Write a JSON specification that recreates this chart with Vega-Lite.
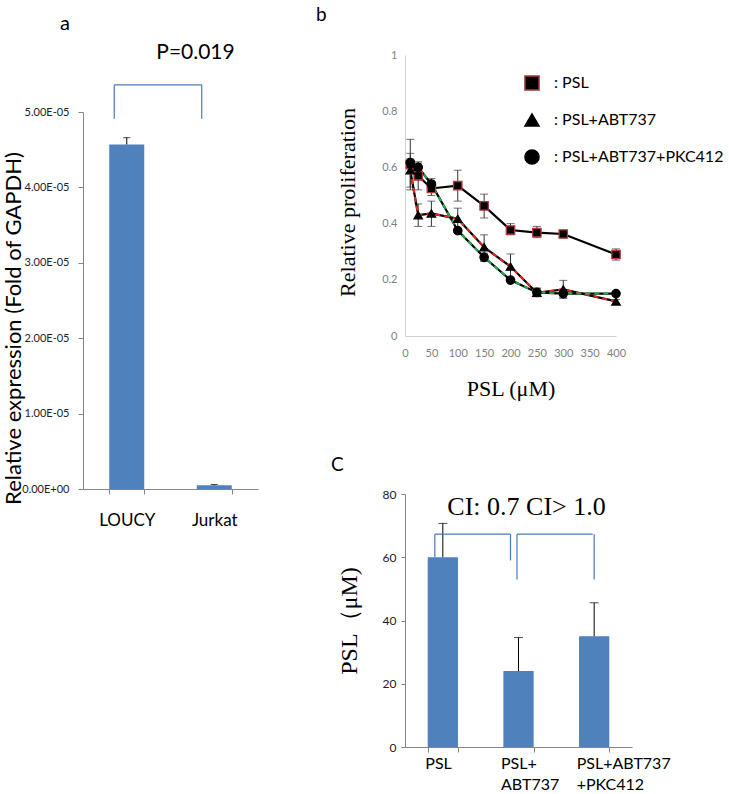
{
  "$schema": "https://vega.github.io/schema/vega-lite/v6.json",
  "background": "white",
  "padding": {"left": 2, "top": 6, "right": 0, "bottom": 0},
  "config": {
    "view": {"stroke": null},
    "font": "Lato",
    "axis": {"grid": false, "labelFont": "Lato", "titleFont": "Lato", "titleFontWeight": "normal", "labelFlush": false},
    "title": {"font": "Lato", "fontWeight": "normal", "color": "black"}
  },
  "spacing": 58,
  "hconcat": [
    {
      "spacing": 6,
      "vconcat": [
        {
          "width": 175,
          "height": 23,
          "title": {"text": "a", "anchor": "start", "frame": "group", "dx": -23, "fontSize": 20, "offset": 8},
          "data": {"values": [{"label": "P=0.019"}]},
          "mark": {"type": "text", "fontSize": 21, "font": "Lato", "color": "black", "dy": -13.5, "dx": 25},
          "encoding": {"text": {"field": "label", "type": "nominal"}}
        },
        {
          "width": 175,
          "height": 377,
          "data": {"values": [
            {"cell": "LOUCY", "expr": 4.57e-5, "upper": 4.66e-5},
            {"cell": "Jurkat", "expr": 5e-7, "upper": 6e-7}
          ]},
          "encoding": {
            "x": {
              "field": "cell", "type": "nominal", "sort": null,
              "scale": {"paddingInner": 0.6, "paddingOuter": 0.3},
              "axis": {"title": null, "labelAngle": 0, "tickBand": "extent", "tickSize": 5, "tickColor": "#868686", "domainColor": "#868686", "labelFontSize": 17, "labelPadding": 18, "labelColor": "black"}
            }
          },
          "layer": [
            {
              "mark": {"type": "bar", "color": "#4F81BD"},
              "encoding": {
                "y": {
                  "field": "expr", "type": "quantitative",
                  "scale": {"domain": [0, 5e-5]},
                  "axis": {
                    "values": [0, 1e-5, 2e-5, 3e-5, 4e-5, 5e-5],
                    "labelExpr": "datum.value == 0 ? '0.00E+00' : format(datum.value * 100000, '.2f') + 'E-05'",
                    "title": "Relative expression (Fold of GAPDH)",
                    "titleFontSize": 22, "titleY": 216, "titlePadding": -4, "titleColor": "black",
                    "labelFontSize": 11, "labelPadding": 9, "labelColor": "#222",
                    "tickSize": 5, "tickColor": "#868686", "domainColor": "#868686"
                  }
                }
              }
            },
            {
              "mark": {"type": "rule", "color": "black", "strokeWidth": 1},
              "encoding": {"y": {"field": "expr", "type": "quantitative"}, "y2": {"field": "upper"}}
            },
            {
              "mark": {"type": "tick", "color": "black", "size": 7, "thickness": 1},
              "encoding": {"y": {"field": "upper", "type": "quantitative"}}
            },
            {
              "data": {"values": [{}]},
              "mark": {"type": "rule", "color": "#4a78b4", "strokeWidth": 1.2, "xOffset": -12.5, "x2Offset": -12.5},
              "encoding": {"x": {"datum": "LOUCY"}, "x2": {"datum": "Jurkat"}, "y": {"datum": 5.36e-5}}
            },
            {
              "mark": {"type": "rule", "color": "#4a78b4", "strokeWidth": 1.2, "xOffset": -12.5},
              "encoding": {"y": {"datum": 4.91e-5}, "y2": {"datum": 5.36e-5}}
            }
          ]
        }
      ]
    },
    {
      "spacing": 57,
      "vconcat": [
        {
          "width": 211,
          "height": 281,
          "title": {"text": "b", "anchor": "start", "frame": "group", "dx": -89, "fontSize": 19, "offset": 24},
          "data": {"values": [
            {"series": "PSL", "dose": 10, "val": 0.61, "lo": 0.52, "hi": 0.70},
            {"series": "PSL", "dose": 25, "val": 0.57, "lo": 0.52, "hi": 0.62},
            {"series": "PSL", "dose": 50, "val": 0.525, "lo": 0.50, "hi": 0.55},
            {"series": "PSL", "dose": 100, "val": 0.535, "lo": 0.48, "hi": 0.59},
            {"series": "PSL", "dose": 150, "val": 0.463, "lo": 0.42, "hi": 0.505},
            {"series": "PSL", "dose": 200, "val": 0.377, "lo": 0.36, "hi": 0.40},
            {"series": "PSL", "dose": 250, "val": 0.368, "lo": 0.35, "hi": 0.39},
            {"series": "PSL", "dose": 300, "val": 0.363, "lo": 0.35, "hi": 0.375},
            {"series": "PSL", "dose": 400, "val": 0.29, "lo": 0.27, "hi": 0.31},
            {"series": "PSL+ABT737", "dose": 10, "val": 0.59, "lo": 0.53, "hi": 0.65},
            {"series": "PSL+ABT737", "dose": 25, "val": 0.43, "lo": 0.39, "hi": 0.47},
            {"series": "PSL+ABT737", "dose": 50, "val": 0.436, "lo": 0.39, "hi": 0.48},
            {"series": "PSL+ABT737", "dose": 100, "val": 0.417, "lo": 0.38, "hi": 0.455},
            {"series": "PSL+ABT737", "dose": 150, "val": 0.316, "lo": 0.27, "hi": 0.36},
            {"series": "PSL+ABT737", "dose": 200, "val": 0.247, "lo": 0.20, "hi": 0.292},
            {"series": "PSL+ABT737", "dose": 250, "val": 0.154, "lo": 0.14, "hi": 0.17},
            {"series": "PSL+ABT737", "dose": 300, "val": 0.166, "lo": 0.135, "hi": 0.198},
            {"series": "PSL+ABT737", "dose": 400, "val": 0.123, "lo": 0.115, "hi": 0.13},
            {"series": "PSL+ABT737+PKC412", "dose": 10, "val": 0.617, "lo": 0.60, "hi": 0.63},
            {"series": "PSL+ABT737+PKC412", "dose": 25, "val": 0.60, "lo": 0.585, "hi": 0.615},
            {"series": "PSL+ABT737+PKC412", "dose": 50, "val": 0.541, "lo": 0.52, "hi": 0.56},
            {"series": "PSL+ABT737+PKC412", "dose": 100, "val": 0.375, "lo": 0.37, "hi": 0.38},
            {"series": "PSL+ABT737+PKC412", "dose": 150, "val": 0.28, "lo": 0.265, "hi": 0.295},
            {"series": "PSL+ABT737+PKC412", "dose": 200, "val": 0.199, "lo": 0.195, "hi": 0.205},
            {"series": "PSL+ABT737+PKC412", "dose": 250, "val": 0.155, "lo": 0.14, "hi": 0.17},
            {"series": "PSL+ABT737+PKC412", "dose": 300, "val": 0.151, "lo": 0.135, "hi": 0.165},
            {"series": "PSL+ABT737+PKC412", "dose": 400, "val": 0.151, "lo": 0.145, "hi": 0.155}
          ]},
          "encoding": {
            "x": {
              "field": "dose", "type": "quantitative",
              "scale": {"domain": [0, 400]},
              "axis": {
                "values": [0, 50, 100, 150, 200, 250, 300, 350, 400],
                "labelOverlap": false,
                "title": "PSL (μM)", "titleFont": "Liberation Serif", "titleFontSize": 22, "titlePadding": 20, "titleColor": "black",
                "labelFontSize": 11, "labelColor": "#808080", "labelPadding": 11,
                "ticks": false, "tickSize": 0, "domainColor": "#d0d0d0"
              }
            }
          },
          "layer": [
            {
              "mark": {"type": "rule", "color": "#333", "strokeWidth": 1},
              "encoding": {
                "y": {
                  "field": "lo", "type": "quantitative",
                  "scale": {"domain": [0, 1]},
                  "axis": {
                    "values": [0, 0.2, 0.4, 0.6, 0.8, 1],
                    "labelExpr": "'' + datum.value",
                    "title": "Relative proliferation", "titleFont": "Liberation Serif", "titleFontSize": 22, "titlePadding": 22, "titleY": 147, "titleColor": "black",
                    "labelFontSize": 11, "labelColor": "#808080", "labelPadding": 8,
                    "ticks": false, "tickSize": 0, "domainColor": "#d0d0d0"
                  }
                },
                "y2": {"field": "hi"}
              }
            },
            {
              "mark": {"type": "tick", "orient": "horizontal", "color": "#333", "size": 8, "thickness": 1},
              "encoding": {"y": {"field": "lo", "type": "quantitative"}}
            },
            {
              "mark": {"type": "tick", "orient": "horizontal", "color": "#333", "size": 8, "thickness": 1},
              "encoding": {"y": {"field": "hi", "type": "quantitative"}}
            },
            {
              "mark": {"type": "line", "color": "black", "strokeWidth": 2.2},
              "encoding": {"y": {"field": "val", "type": "quantitative"}, "detail": {"field": "series"}}
            },
            {
              "transform": [{"filter": "datum.series != 'PSL'"}],
              "mark": {"type": "line", "strokeWidth": 2, "strokeDash": [5, 4]},
              "encoding": {
                "y": {"field": "val", "type": "quantitative"},
                "color": {"field": "series", "type": "nominal", "scale": {"domain": ["PSL+ABT737", "PSL+ABT737+PKC412"], "range": ["#e8241c", "#1fae4a"]}, "legend": null}
              }
            },
            {
              "mark": {"type": "point", "filled": true, "opacity": 1, "color": "black", "strokeWidth": 1.3, "size": 70},
              "encoding": {
                "y": {"field": "val", "type": "quantitative"},
                "shape": {
                  "field": "series", "type": "nominal",
                  "scale": {"domain": ["PSL", "PSL+ABT737", "PSL+ABT737+PKC412"], "range": ["square", "triangle-up", "circle"]},
                  "legend": {
                    "title": null, "orient": "right", "offset": -167, "padding": 20,
                    "labelExpr": "': ' + datum.label", "labelFontSize": 16, "labelFont": "Lato", "labelColor": "black", "labelLimit": 400,
                    "symbolSize": 200, "symbolFillColor": "black", "symbolStrokeColor": "black",
                    "rowPadding": 16, "labelOffset": 14
                  }
                },
                "stroke": {"field": "series", "type": "nominal", "scale": {"domain": ["PSL", "PSL+ABT737", "PSL+ABT737+PKC412"], "range": ["#b03a3a", "black", "black"]}, "legend": null}
              }
            }
          ]
        },
        {
          "width": 227,
          "height": 253,
          "title": {"text": "C", "anchor": "start", "frame": "group", "dx": -74, "fontSize": 19, "offset": 13},
          "data": {"values": [
            {"grp": "PSL", "ic50": 60, "upper": 70.7},
            {"grp": "PSL+ABT737", "ic50": 24, "upper": 34.6},
            {"grp": "PSL+ABT737+PKC412", "ic50": 35, "upper": 45.6}
          ]},
          "encoding": {
            "x": {
              "field": "grp", "type": "nominal", "sort": null,
              "scale": {"paddingInner": 0.6, "paddingOuter": 0.3},
              "axis": {
                "title": null, "labelAngle": 0, "tickBand": "extent", "tickSize": 5, "tickColor": "#868686", "domainColor": "#868686",
                "labelExpr": "datum.value == 'PSL+ABT737' ? ['PSL+', 'ABT737'] : datum.value == 'PSL+ABT737+PKC412' ? ['PSL+ABT737', '+PKC412'] : datum.value",
                "labelAlign": "left", "labelOffset": -18, "labelFontSize": 16, "labelLineHeight": 21, "labelPadding": 3, "labelColor": "black"
              }
            }
          },
          "layer": [
            {
              "mark": {"type": "bar", "color": "#4F81BD"},
              "encoding": {
                "y": {
                  "field": "ic50", "type": "quantitative",
                  "scale": {"domain": [0, 80]},
                  "axis": {
                    "values": [0, 20, 40, 60, 80],
                    "title": "PSL（μM)", "titleFont": "Liberation Serif", "titleFontSize": 24, "titlePadding": 21, "titleColor": "black",
                    "labelFontSize": 12, "labelColor": "#222", "labelPadding": 5,
                    "tickSize": 4, "tickColor": "#868686", "domainColor": "#868686"
                  }
                }
              }
            },
            {
              "mark": {"type": "rule", "color": "black", "strokeWidth": 1},
              "encoding": {"y": {"field": "ic50", "type": "quantitative"}, "y2": {"field": "upper"}}
            },
            {
              "mark": {"type": "tick", "color": "black", "size": 9, "thickness": 1},
              "encoding": {"y": {"field": "upper", "type": "quantitative"}}
            },
            {
              "data": {"values": [{}]},
              "mark": {"type": "rule", "color": "#4a78b4", "strokeWidth": 1.2, "xOffset": -8, "x2Offset": -8},
              "encoding": {"x": {"datum": "PSL"}, "x2": {"datum": "PSL+ABT737"}, "y": {"datum": 67.3}}
            },
            {
              "data": {"values": [{}]},
              "mark": {"type": "rule", "color": "#4a78b4", "strokeWidth": 1.2, "xOffset": -8},
              "encoding": {"x": {"datum": "PSL"}, "y": {"datum": 60}, "y2": {"datum": 67.3}}
            },
            {
              "data": {"values": [{}]},
              "mark": {"type": "rule", "color": "#4a78b4", "strokeWidth": 1.2, "xOffset": -8},
              "encoding": {"x": {"datum": "PSL+ABT737"}, "y": {"datum": 59}, "y2": {"datum": 67.3}}
            },
            {
              "data": {"values": [{}]},
              "mark": {"type": "rule", "color": "#4a78b4", "strokeWidth": 1.2, "xOffset": -1.5, "x2Offset": -1.5},
              "encoding": {"x": {"datum": "PSL+ABT737"}, "x2": {"datum": "PSL+ABT737+PKC412"}, "y": {"datum": 67.3}}
            },
            {
              "data": {"values": [{}]},
              "mark": {"type": "rule", "color": "#4a78b4", "strokeWidth": 1.2, "xOffset": -1.5},
              "encoding": {"x": {"datum": "PSL+ABT737"}, "y": {"datum": 53}, "y2": {"datum": 67.3}}
            },
            {
              "data": {"values": [{}]},
              "mark": {"type": "rule", "color": "#4a78b4", "strokeWidth": 1.2},
              "encoding": {"x": {"datum": "PSL+ABT737+PKC412"}, "y": {"datum": 53}, "y2": {"datum": 67.3}}
            },
            {
              "data": {"values": [{"label": "CI: 0.7 CI> 1.0"}]},
              "mark": {"type": "text", "font": "Liberation Serif", "fontSize": 26, "color": "black", "dx": 8},
              "encoding": {"x": {"datum": "PSL+ABT737"}, "y": {"datum": 75.9}, "text": {"field": "label", "type": "nominal"}}
            }
          ]
        }
      ]
    }
  ]
}
